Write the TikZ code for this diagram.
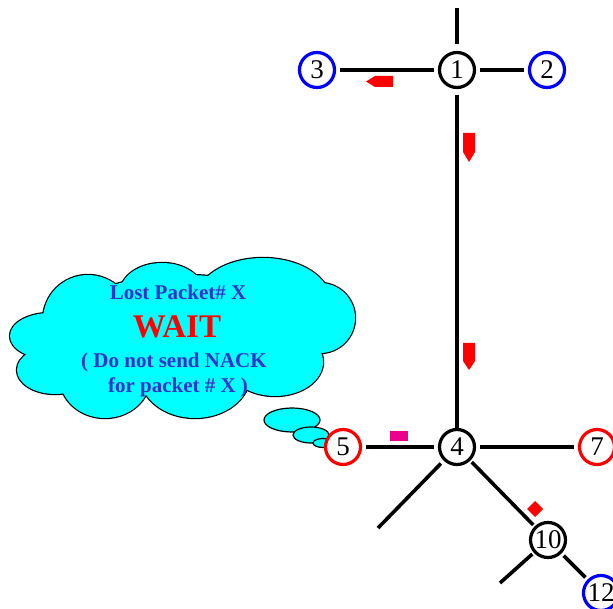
\documentclass[tikz,border=0pt]{standalone}
\usepackage{fontspec}
\setmainfont{Liberation Serif}
\definecolor{txtblue}{RGB}{51,51,204}
\definecolor{cloudc}{RGB}{0,255,255}
\newcommand\cloudpuffs[1]{%
  \path[#1] (88,320) ellipse [x radius=45,y radius=45];
  \path[#1] (162,293) ellipse [x radius=42,y radius=30];
  \path[#1] (263,302) ellipse [x radius=68,y radius=44];
  \path[#1] (320,318) ellipse [x radius=35,y radius=35];
  \path[#1] (275,362) ellipse [x radius=48,y radius=34];
  \path[#1] (195,375) ellipse [x radius=55,y radius=43];
  \path[#1] (105,378) ellipse [x radius=45,y radius=40];
  \path[#1] (55,370) ellipse [x radius=38,y radius=24];
  \path[#1] (50,336) ellipse [x radius=40,y radius=23];
  \path[#1] (185,335) ellipse [x radius=130,y radius=60];
}
\begin{document}
\begin{tikzpicture}[x=1pt,y=-1pt,
  nd/.style={circle,draw=black,line width=3.2pt,minimum size=35pt,inner sep=0pt,
    font=\fontsize{27}{27}\selectfont,fill=white},
  bnd/.style={nd,draw=blue},
  rnd/.style={nd,draw=red},
  link/.style={line width=3.6pt,shorten <=4pt,shorten >=4pt},
  ctext/.style={anchor=base,text=txtblue,font=\bfseries\fontsize{21}{21}\selectfont,inner sep=0pt},
  puffout/.style={draw=black,fill=cloudc,line width=2.4pt},
  puffin/.style={fill=cloudc},
  bubble/.style={draw=black,fill=cloudc,line width=1.2pt}
]
\useasboundingbox (0,0) rectangle (613,609);

% cloud: outline pass then fill pass
\cloudpuffs{puffout}
\cloudpuffs{puffin}
% thought bubbles
\path[bubble] (292,420) ellipse [x radius=28,y radius=12];
\path[bubble] (311,435) ellipse [x radius=18,y radius=8];
\path[bubble] (323,443) ellipse [x radius=10,y radius=4.5];

% cloud text
\node[ctext] (l1) at (178,300) {Lost Packet\# X};
\node[anchor=base,text=red,font=\bfseries\fontsize{33}{33}\selectfont,inner sep=0pt] (l2) at (177,338) {WAIT};
\node[ctext] (l3) at (174,368) {( Do not send NACK};
\node[ctext] (l4) at (178,392) {for packet \# X )};

% nodes
\node[nd] (n1) at (457,70) {1};
\node[bnd] (n2) at (547,70) {2};
\node[bnd] (n3) at (317,70) {3};
\node[nd] (n4) at (457,447) {4};
\node[rnd] (n5) at (343,447) {5};
\node[rnd] (n7) at (597,447) {7};
\node[nd] (n10) at (548,540) {10};
\node[bnd] (n12) at (601,593) {12};

\coordinate (top) at (457,8);
\coordinate (dl4) at (378,528);
\coordinate (dl10) at (500,583);

% links
\draw[link,shorten >=0pt,shorten <=7pt] (n1) -- (top);
\draw[link] (n3) -- (n1);
\draw[link] (n1) -- (n2);
\draw[link,shorten >=0pt,shorten <=6pt] (n1) -- (n4);
\draw[link] (n5) -- (n4);
\draw[link] (n4) -- (n7);
\draw[link,shorten >=0pt] (n4) -- (dl4);
\draw[link,shorten <=2pt,shorten >=2pt] (n4) -- (n10);
\draw[link,shorten >=0pt,shorten <=2pt] (n10) -- (dl10);
\draw[link,shorten <=3pt,shorten >=3pt] (n10) -- (n12);

% packets
\fill[red] (366,81.5) -- (375,76) -- (393,76) -- (393,87) -- (375,87) -- cycle;
\fill[red] (463,133) -- (475,133) -- (475,152) -- (469,162) -- (463,152) -- cycle;
\fill[red] (463,343) -- (475,343) -- (475,361) -- (469,370) -- (463,361) -- cycle;
\fill[magenta] (390,431) rectangle (408,441);
\fill[red] (535,501) -- (543,509) -- (535,517) -- (527,509) -- cycle;
\end{tikzpicture}
\end{document}
